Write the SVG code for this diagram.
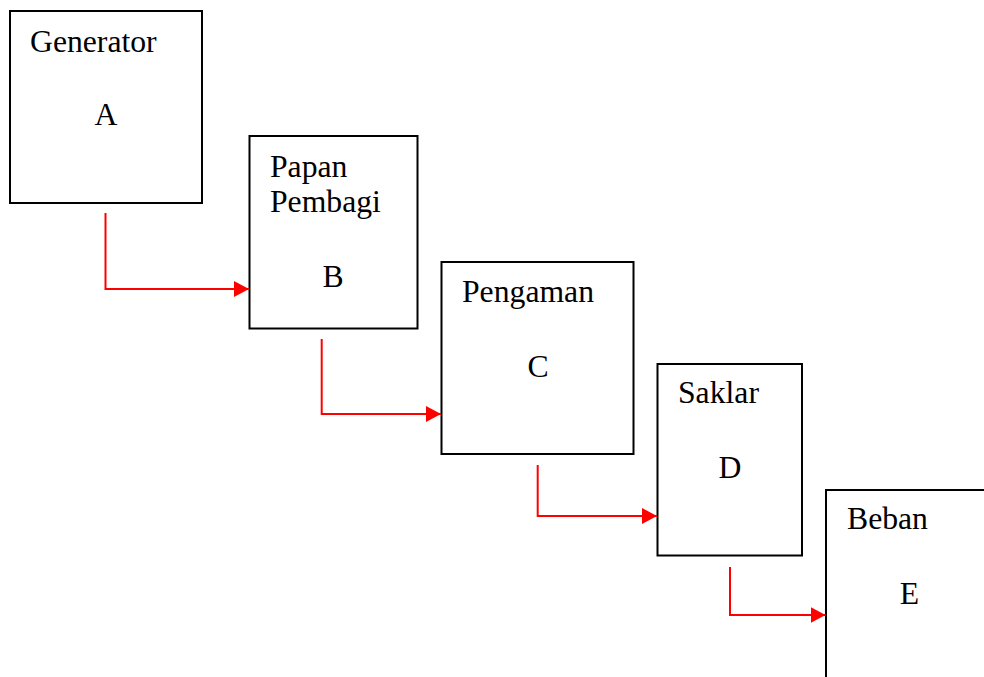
<svg xmlns="http://www.w3.org/2000/svg" width="984" height="677" viewBox="0 0 984 677">
<defs>
<style>
.box{fill:#fff;stroke:#000;stroke-width:2}
.t{font-family:"Liberation Serif","Times New Roman",serif;font-size:31.7px;fill:#000}
.c{stroke:#ff0000;stroke-width:2;fill:none}
</style>
<marker id="ah" markerUnits="userSpaceOnUse" markerWidth="16" markerHeight="17" refX="15" refY="8" orient="auto">
<path d="M0,0 L15,8 L0,16 Z" fill="#ff0000"/>
</marker>
</defs>
<rect width="984" height="677" fill="#fff"/>
<g id="nodeA">
<rect class="box" x="10" y="11" width="192" height="192"/>
<text class="t" x="30" y="52">Generator</text>
<text class="t" x="106" y="125" text-anchor="middle">A</text>
</g>
<g id="nodeB">
<rect class="box" x="249.5" y="136" width="168" height="192.5"/>
<text class="t" x="270" y="177">Papan</text>
<text class="t" x="270" y="212">Pembagi</text>
<text class="t" x="333" y="287" text-anchor="middle">B</text>
</g>
<g id="nodeC">
<rect class="box" x="441.5" y="262" width="192" height="192"/>
<text class="t" x="462" y="302">Pengaman</text>
<text class="t" x="538" y="377" text-anchor="middle">C</text>
</g>
<g id="nodeD">
<rect class="box" x="657.5" y="364" width="144.5" height="191.5"/>
<text class="t" x="678" y="403">Saklar</text>
<text class="t" x="730" y="478" text-anchor="middle">D</text>
</g>
<g id="nodeE">
<rect class="box" x="826" y="490" width="200" height="220"/>
<text class="t" x="847" y="529">Beban</text>
<text class="t" x="909.5" y="604" text-anchor="middle">E</text>
</g>
<g id="connectors">
<path class="c" d="M105.5,213 V289 H249" marker-end="url(#ah)"/>
<path class="c" d="M321.7,339 V414 H441" marker-end="url(#ah)"/>
<path class="c" d="M537.7,465 V516 H657" marker-end="url(#ah)"/>
<path class="c" d="M730,567 V615 H825.5" marker-end="url(#ah)"/>
</g>
</svg>
